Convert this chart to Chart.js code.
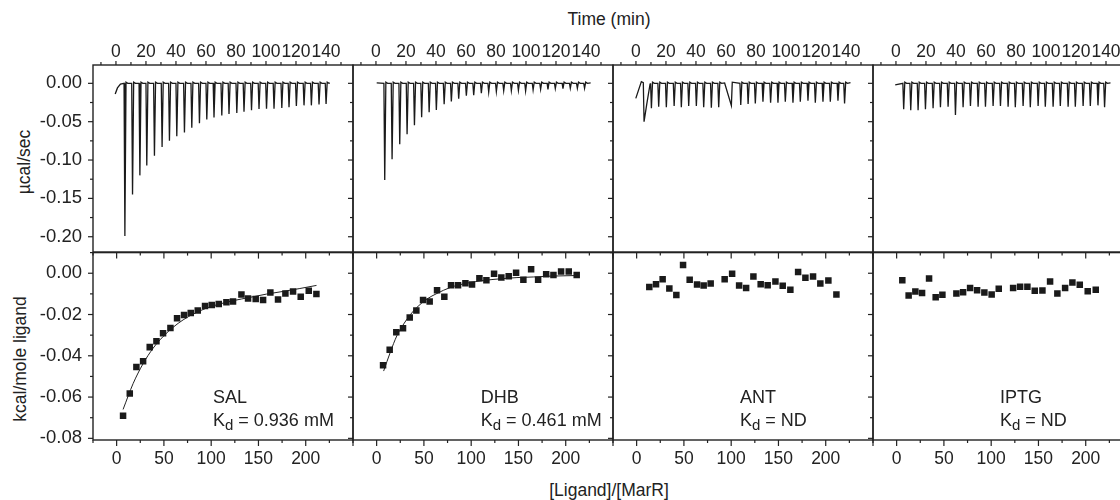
<!DOCTYPE html>
<html><head><meta charset="utf-8">
<script src="https://cdn.jsdelivr.net/npm/chart.js@4.4.1/dist/chart.umd.min.js"></script>
<style>
html,body{margin:0;padding:0;background:#fff;overflow:hidden;width:1120px;height:500px;}
#wrap{position:relative;width:1120px;height:500px;overflow:hidden;font-family:"Liberation Sans",Arial,Helvetica,sans-serif;color:#222;background:#fff;}
canvas{position:absolute;}
.t{position:absolute;font-size:17.5px;white-space:nowrap;line-height:1;transform:translate(-50%,-50%);}
.r{transform:translate(-50%,-50%) rotate(-90deg);}
</style></head>
<body><div id="wrap">
<div class="t" style="left:609px;top:20px;">Time (min)</div>
<div class="t" style="left:609px;top:491px;">[Ligand]/[MarR]</div>
<div class="t r" style="left:25px;top:162px;">µcal/sec</div>
<div class="t r" style="left:21px;top:359px;">kcal/mole ligand</div>
</div>
<script>
// ---------- tick labels ----------
const timeLabelValues = [0, 20, 40, 60, 80, 100, 120, 140];
const ratioLabelValues = [0, 50, 100, 150, 200];
const heatLabelValues = [0, -0.05, -0.10, -0.15, -0.20];
const enthLabelValues = [0, -0.02, -0.04, -0.06, -0.08];

// ---------- panel names ----------
const ligands = ['SAL', 'DHB', 'ANT', 'IPTG'];
const kdTexts = ['0.936 mM', '0.461 mM', 'ND', 'ND'];

// ---------- raw ITC traces: injection times (min) and peak heat rates (µcal/sec) ----------
const salInjT = [5.5,10.6,15.5,20.1,25.2,30.3,35.2,40.1,45.2,50.1,55.2,60.1,64.9,70.1,74.9,80.1,84.9,89.9,94.9,99.9,104.9,110.1,114.9,119.8,124.9,129.8,134.9,139.6];
const salPeak = [-0.199,-0.145,-0.120,-0.107,-0.0945,-0.083,-0.075,-0.069,-0.064,-0.058,-0.052,-0.047,-0.0445,-0.042,-0.040,-0.0387,-0.037,-0.0352,-0.0335,-0.033,-0.033,-0.032,-0.031,-0.0296,-0.0287,-0.0287,-0.0275,-0.027];
const salExtra = [[-0.5,-0.014],[1.0,-0.006],[3.0,-0.001],[142.5,0.0005]];

const dhbInjT = [5.4,10.3,15.4,20.3,25.2,30.0,35.0,39.8,45.0,49.8,54.7,59.8,64.7,69.8,74.7,79.8,84.7,89.8,94.5,99.3,104.3,109.3,114.2,119.1,124.2,129.1,133.8,138.6];
const dhbPeak = [-0.126,-0.099,-0.0795,-0.0665,-0.0547,-0.0443,-0.0378,-0.0347,-0.0273,-0.0238,-0.0199,-0.016,-0.0156,-0.013,-0.0113,-0.0108,-0.0095,-0.0095,-0.0091,-0.0099,-0.0086,-0.0078,-0.0078,-0.0069,-0.0069,-0.0065,-0.0065,-0.0065];
const dhbExtra = [[0.5,0.0005],[143.1,0.0005]];

const antInjT = [9.85,14.7,19.8,25.0,29.8,34.7,39.8,44.7,49.8,54.7,69.4,74.3,79.1,84.2,89.3,94.2,99.1,104.2,109.1,114.2,119.1,124.2,129.1,134.2,138.6];
const antPeak = [-0.0326,-0.0305,-0.0313,-0.0296,-0.0313,-0.0296,-0.0296,-0.0313,-0.0318,-0.0313,-0.0283,-0.027,-0.0261,-0.024,-0.0253,-0.0253,-0.024,-0.0253,-0.024,-0.0227,-0.0253,-0.024,-0.024,-0.0227,-0.0261];
const antExtra = [[-0.1,-0.0196],[3.6,0.0022],[4.9,0.001],[5.4,-0.050],[7.2,-0.027],[9.4,-0.001],[59.1,0.0005],[63.6,-0.029],[64.2,0.0015],[143,0.001]];

const iptgInjT = [4.7,9.4,14.3,19.2,24.3,29.2,34.3,39.2,44.3,49.2,54.3,59.2,64.3,69.2,74.3,79.1,84.3,89.1,94.3,99.1,104.3,109.1,114.3,119.1,124.3,129.1,134.2,138.6];
const iptgPeak = [-0.0339,-0.0352,-0.0352,-0.0339,-0.0326,-0.0313,-0.0305,-0.0413,-0.0313,-0.0296,-0.0305,-0.0305,-0.0296,-0.0296,-0.0305,-0.0313,-0.0296,-0.0313,-0.0296,-0.0305,-0.0305,-0.0296,-0.0305,-0.0305,-0.0296,-0.0296,-0.0287,-0.0313];
const iptgExtra = [[-0.5,-0.002],[143,0.0005]];

// ---------- integrated heats: [Ligand]/[MarR] and kcal/mole ligand ----------
const salX = [6.8,13.9,20.9,28.0,35.0,42.1,49.1,56.9,63.9,71.3,78.4,85.8,93.5,100.6,108.0,116.1,123.1,132.0,139.0,147.1,154.9,162.6,170.7,178.5,186.6,194.7,203.2,211.3];
const salY = [-0.069,-0.0583,-0.0454,-0.0426,-0.0358,-0.0329,-0.0291,-0.0265,-0.0218,-0.0202,-0.0193,-0.0181,-0.0159,-0.0154,-0.0149,-0.0141,-0.0137,-0.0103,-0.0122,-0.0125,-0.0130,-0.0093,-0.0127,-0.0098,-0.0088,-0.0114,-0.0085,-0.0101];
const salFitX = [6.8,17.4,28,38.6,49.1,59.7,70.3,80.9,95,109.1,123.2,140.9,158.5,176.2,193.8,211.4];
const salFitY = [-0.0660,-0.0535,-0.0438,-0.0363,-0.0307,-0.0262,-0.0226,-0.0198,-0.0169,-0.0149,-0.0133,-0.0117,-0.0101,-0.0088,-0.0074,-0.0059];

const dhbX = [6.8,13.8,20.8,27.9,35,42,49.1,56.1,63.9,71.6,78.7,86.1,93.9,100.9,108.7,116.1,124.2,131.9,139.7,147.5,155.2,163.4,170.8,179.3,187,195.1,203.2,211.6];
const dhbY = [-0.0446,-0.0371,-0.0286,-0.0267,-0.0214,-0.0181,-0.0130,-0.0137,-0.0082,-0.0114,-0.0058,-0.0058,-0.0048,-0.0055,-0.0024,-0.0034,-0.0002,-0.0021,-0.0014,0.0002,-0.0031,0.0019,-0.0031,-0.0005,-0.0008,0.0008,0.0008,-0.0008];
const dhbFitX = [7.4,14.5,21.5,28.6,35.6,42.7,53.2,63.8,77.9,95.5,113.2,130.8,148.4,166.1,183.7,211.9];
const dhbFitY = [-0.0474,-0.0382,-0.0302,-0.0246,-0.0201,-0.0165,-0.0125,-0.0098,-0.0069,-0.0048,-0.0035,-0.0027,-0.0021,-0.0018,-0.0014,-0.0011];

const antX = [13.4,20.5,27.5,34.6,42,49.1,56.1,63.9,70.9,78.3,93.1,101,108.4,115.8,123.5,131.2,138.6,146.8,154.5,162.6,170.8,178.5,186.6,194.3,202.8,211.3];
const antY = [-0.0067,-0.0053,-0.0029,-0.0074,-0.0106,0.0040,-0.0032,-0.0055,-0.0059,-0.0050,-0.0029,-0.0003,-0.0059,-0.0072,-0.0016,-0.0053,-0.0058,-0.0040,-0.0061,-0.0080,0.0006,-0.0022,-0.0016,-0.0050,-0.0035,-0.0103];

const iptgX = [6.0,12.7,19.8,26.9,34.3,41.3,48.4,63.2,70.3,77.7,85.1,92.8,100.5,108,123.2,130.6,138.3,146.1,154.2,162.3,170,178.2,185.9,193.7,202.1,210.6];
const iptgY = [-0.0034,-0.0108,-0.0088,-0.0096,-0.0026,-0.0116,-0.0104,-0.0098,-0.0092,-0.0071,-0.0082,-0.0093,-0.0103,-0.0075,-0.0072,-0.0066,-0.0066,-0.0085,-0.0084,-0.0040,-0.0098,-0.0072,-0.0045,-0.0056,-0.0087,-0.0080];

// annotation anchors ([Ligand]/[MarR] units, kcal/mole units)
const annX = [101.9, 110.1, 109.3, 109.3];
const annNameY = -0.0605;
const annKdY = -0.0715;

// ---------- layout ----------
const FONT = '"Liberation Sans", Arial, Helvetica, sans-serif';
const INK = '#222';
Chart.defaults.font.family = FONT;
Chart.defaults.color = INK;
const PL = [93, 353, 613, 873], PW = 260;
const TOP = 65, MID = 252, BOT = 440;

const traces = [
  [salInjT, salPeak, salExtra], [dhbInjT, dhbPeak, dhbExtra],
  [antInjT, antPeak, antExtra], [iptgInjT, iptgPeak, iptgExtra]
];
const points = [[salX, salY], [dhbX, dhbY], [antX, antY], [iptgX, iptgY]];
const fits = [[salFitX, salFitY], [dhbFitX, dhbFitY], null, null];

function buildTrace(injT, peak, extra) {
  const pts = extra.map(p => ({x: p[0], y: p[1]}));
  injT.forEach((t, i) => {
    pts.push({x: t - 0.1, y: 0}, {x: t + 0.45, y: peak[i]}, {x: t + 1.2, y: 0.0015}, {x: t + 2.4, y: 0});
  });
  pts.sort((a, b) => a.x - b.x);
  return pts;
}
const near = (v, arr) => arr.some(a => Math.abs(a - v) < 1e-6);

const frameTicks = {
  id: 'frameTicks',
  afterDraw(chart) {
    const o = chart.options.plugins.frameTicks;
    const ca = chart.chartArea, ctx = chart.ctx;
    ctx.save();
    ctx.strokeStyle = INK;
    ctx.lineWidth = 1.4;
    ctx.strokeRect(ca.left, ca.top, ca.right - ca.left, ca.bottom - ca.top);
    ctx.lineWidth = 1.2;
    const seg = (x1, y1, x2, y2) => { ctx.beginPath(); ctx.moveTo(x1, y1); ctx.lineTo(x2, y2); ctx.stroke(); };
    const ys = chart.scales.y;
    ys.ticks.forEach(t => {
      const y = ys.getPixelForValue(t.value);
      const len = near(t.value, o.yMajor) ? 5 : 3;
      if (o.yLeftOut) seg(ca.left, y, ca.left - len, y);
      seg(ca.right, y, ca.right - len, y);
    });
    const xs = chart.scales.x;
    xs.ticks.forEach(t => {
      const x = xs.getPixelForValue(t.value);
      const len = (Math.abs(t.value % o.xMajorStep) < 1e-6) ? o.xMajorLen : o.xMinorLen;
      if (o.xTop === 'out') seg(x, ca.top, x, ca.top - len);
      if (o.xTop === 'in') seg(x, ca.top, x, ca.top + len);
      if (o.xBottom === 'out') seg(x, ca.bottom, x, ca.bottom + len);
    });
    if (o.ann !== undefined) {
      const i = o.ann;
      const x = xs.getPixelForValue(annX[i]);
      const y1 = ys.getPixelForValue(annNameY), y2 = ys.getPixelForValue(annKdY);
      ctx.fillStyle = INK;
      ctx.textBaseline = 'middle';
      ctx.textAlign = 'left';
      ctx.font = '18px ' + FONT;
      ctx.fillText(ligands[i], x, y1);
      ctx.fillText('K', x, y2);
      let w = ctx.measureText('K').width;
      ctx.font = '15px ' + FONT;
      ctx.fillText('d', x + w, y2 + 5);
      w += ctx.measureText('d').width;
      ctx.font = '18px ' + FONT;
      ctx.fillText(' = ' + kdTexts[i], x + w, y2);
    }
    ctx.restore();
  }
};

function makeCanvas(left, top, w, h) {
  const c = document.createElement('canvas');
  c.width = w; c.height = h;
  c.style.left = left + 'px'; c.style.top = top + 'px';
  c.style.width = w + 'px'; c.style.height = h + 'px';
  document.getElementById('wrap').appendChild(c);
  return c;
}

const tickFont = {size: 17.5, family: FONT};
const yTickFont = {size: 18.5, family: FONT};
const fixH = h => s => { s.height = h; s.paddingLeft = 0; s.paddingRight = 0; s.paddingTop = 0; s.paddingBottom = 0; };
const fixW = w => s => { s.width = w; s.paddingLeft = 0; s.paddingRight = 0; s.paddingTop = 0; s.paddingBottom = 0; };

for (let i = 0; i < 4; i++) {
  // ----- top: raw heat trace -----
  const ML = i === 0 ? 93 : 8, MR = 8;
  const cTop = makeCanvas(PL[i] - ML, 0, ML + PW + MR, MID + 4);
  new Chart(cTop, {
    type: 'scatter',
    data: {datasets: [{
      data: buildTrace(...traces[i]), showLine: true, borderColor: '#1a1a1a', borderWidth: 1.3,
      pointRadius: 0, tension: 0
    }]},
    options: {
      responsive: false, animation: false, devicePixelRatio: 1, events: [],
      layout: {padding: {left: 0, right: MR, top: 0, bottom: 4}},
      plugins: {legend: {display: false}, tooltip: {enabled: false},
        frameTicks: {yLeftOut: i === 0, yMajor: heatLabelValues, xTop: 'out', xMajorStep: 20, xMajorLen: 4, xMinorLen: 3}},
      scales: {
        x: {type: 'linear', position: 'top', min: -15.3, max: 158,
          afterFit: fixH(TOP),
          grid: {display: false, drawTicks: false}, border: {display: false},
          ticks: {stepSize: 10, includeBounds: false, autoSkip: false, maxRotation: 0, padding: 2.5, font: tickFont, color: INK,
            callback: v => near(v, timeLabelValues) ? String(Math.round(v)) : ''}},
        y: {type: 'linear', position: 'left', min: -0.2199, max: 0.0239,
          afterFit: fixW(ML),
          grid: {display: false, drawTicks: false}, border: {display: false},
          ticks: {display: i === 0, stepSize: 0.025, includeBounds: false, autoSkip: false, padding: 11, font: yTickFont, color: INK,
            callback: v => near(v, heatLabelValues) ? (Math.abs(v) < 1e-9 ? 0 : v).toFixed(2) : ''}}
      }
    },
    plugins: [frameTicks]
  });

  // ----- bottom: integrated heats -----
  const cBot = makeCanvas(PL[i] - ML, MID - 4, ML + PW + MR, 4 + (BOT - MID) + 40);
  const ds = [{
    data: points[i][0].map((x, k) => ({x, y: points[i][1][k]})),
    pointStyle: 'rect', pointRadius: 4.6, backgroundColor: '#1a1a1a', borderColor: '#1a1a1a', borderWidth: 0, showLine: false
  }];
  if (fits[i]) ds.push({
    data: fits[i][0].map((x, k) => ({x, y: fits[i][1][k]})),
    showLine: true, pointRadius: 0, borderColor: INK, borderWidth: 1, cubicInterpolationMode: 'monotone'
  });
  new Chart(cBot, {
    type: 'scatter',
    data: {datasets: ds},
    options: {
      responsive: false, animation: false, devicePixelRatio: 1, events: [],
      layout: {padding: {left: 0, right: MR, top: 4, bottom: 0}},
      plugins: {legend: {display: false}, tooltip: {enabled: false},
        frameTicks: {yLeftOut: i === 0, yMajor: enthLabelValues, xTop: 'in', xBottom: 'out', xMajorStep: 50, xMajorLen: 6, xMinorLen: 3, ann: i}},
      scales: {
        x: {type: 'linear', position: 'bottom', min: -25, max: 250,
          afterFit: fixH(40),
          grid: {display: false, drawTicks: false}, border: {display: false},
          ticks: {stepSize: 25, autoSkip: false, maxRotation: 0, padding: 9, font: tickFont, color: INK,
            callback: v => near(v, ratioLabelValues) ? String(Math.round(v)) : ''}},
        y: {type: 'linear', position: 'left', min: -0.0808, max: 0.0100,
          afterFit: fixW(ML),
          grid: {display: false, drawTicks: false}, border: {display: false},
          ticks: {display: i === 0, stepSize: 0.01, includeBounds: false, autoSkip: false, padding: 11, font: yTickFont, color: INK,
            callback: v => near(v, enthLabelValues) ? (Math.abs(v) < 1e-9 ? 0 : v).toFixed(2) : ''}}
      }
    },
    plugins: [frameTicks]
  });
}
</script>
</body></html>
